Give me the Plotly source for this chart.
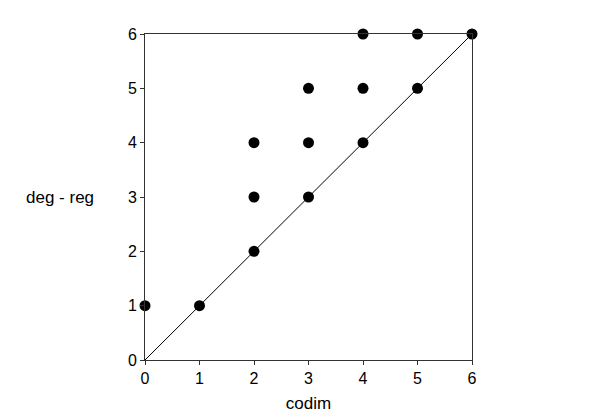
import plotly.graph_objects as go

codim = [0, 1, 2, 2, 2, 3, 3, 3, 4, 4, 4, 5, 5, 6]
deg_reg = [1, 1, 2, 3, 4, 3, 4, 5, 4, 5, 6, 5, 6, 6]
diag_x = [0, 6]
diag_y = [0, 6]
ticks = [0, 1, 2, 3, 4, 5, 6]

fig = go.Figure()
fig.add_trace(go.Scatter(x=diag_x, y=diag_y, mode="lines",
                         line=dict(color="black", width=1), cliponaxis=False,
                         hoverinfo="skip"))
fig.add_trace(go.Scatter(x=codim, y=deg_reg, mode="markers",
                         marker=dict(color="black", size=11), cliponaxis=False))

axis_common = dict(range=[0, 6], tickvals=ticks, ticks="outside", ticklen=4,
                   tickcolor="#333", linecolor="#333", linewidth=1, mirror=True,
                   showgrid=False, zeroline=False, showline=True,
                   tickfont=dict(family="Liberation Sans, Arial", size=16, color="black"))

fig.update_layout(
    width=600, height=417,
    margin=dict(l=137, r=136, t=26, b=65),
    paper_bgcolor="white", plot_bgcolor="white",
    showlegend=False,
    font=dict(family="Liberation Sans, Arial", color="black"),
    xaxis=dict(**axis_common, title=dict(text="codim", font=dict(size=17), standoff=10)),
    yaxis=dict(**axis_common),
    annotations=[dict(text="deg - reg", xref="paper", yref="y", x=-0.26, y=3,
                      xanchor="center", yanchor="middle", showarrow=False,
                      font=dict(size=17, color="black"))],
)

fig.write_html("out.html")
